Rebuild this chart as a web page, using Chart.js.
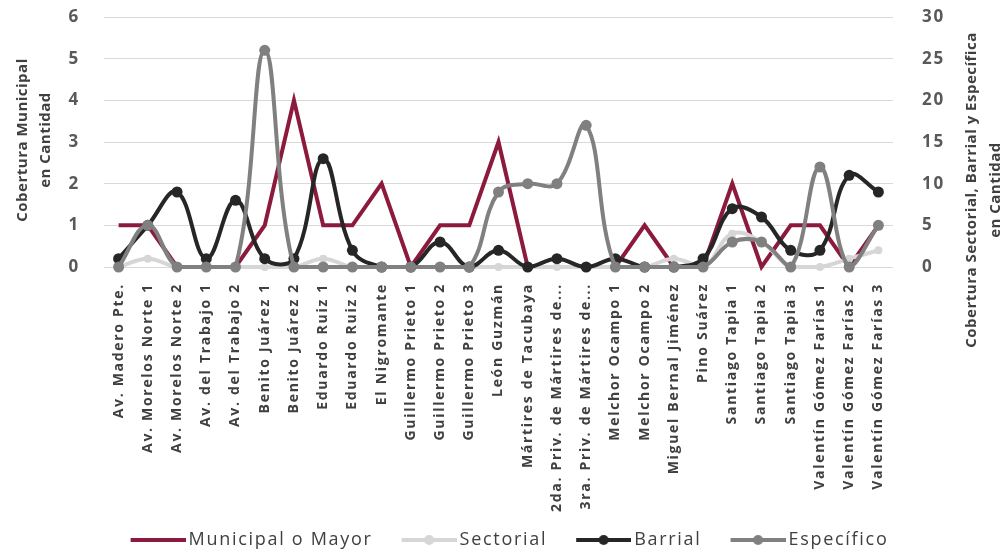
<!DOCTYPE html>
<html>
<head>
<meta charset="utf-8">
<script src="https://cdn.jsdelivr.net/npm/chart.js@4/dist/chart.umd.min.js"></script>
<style>
  html, body { margin: 0; padding: 0; background: #ffffff; }
  #wrap { width: 1008px; height: 554px; }
</style>
</head>
<body>
<div id="wrap"><canvas id="chart" width="1008" height="554"></canvas></div>
<script>
// Street segments (categories) and coverage counts per level
const categories = [
  'Av. Madero Pte.', 'Av. Morelos Norte 1', 'Av. Morelos Norte 2', 'Av. del Trabajo 1',
  'Av. del Trabajo 2', 'Benito Juárez 1', 'Benito Juárez 2', 'Eduardo Ruiz 1',
  'Eduardo Ruiz 2', 'El Nigromante', 'Guillermo Prieto 1', 'Guillermo Prieto 2',
  'Guillermo Prieto 3', 'León Guzmán', 'Mártires de Tacubaya', '2da. Priv. de Mártires de...',
  '3ra. Priv. de Mártires de...', 'Melchor Ocampo 1', 'Melchor Ocampo 2', 'Miguel Bernal Jiménez',
  'Pino Suárez', 'Santiago Tapia 1', 'Santiago Tapia 2', 'Santiago Tapia 3',
  'Valentín Gómez Farías 1', 'Valentín Gómez Farías 2', 'Valentín Gómez Farías 3'
];

// Left axis series
const municipal = [1, 1, 0, 0, 0, 1, 4, 1, 1, 2, 0, 1, 1, 3, 0, 0, 0, 0, 1, 0, 0, 2, 0, 1, 1, 0, 1];

// Right axis series
const sectorial = [0, 1, 0, 0, 0, 0, 0, 1, 0, 0, 0, 0, 0, 0, 0, 0, 0, 0, 0, 1, 0, 4, 3, 0, 0, 1, 2];
const barrial = [1, 5, 9, 1, 8, 1, 1, 13, 2, 0, 0, 3, 0, 2, 0, 1, 0, 1, 0, 0, 1, 7, 6, 2, 2, 11, 9];
const especifico = [0, 5, 0, 0, 0, 26, 0, 0, 0, 0, 0, 0, 0, 9, 10, 10, 17, 0, 0, 0, 0, 3, 3, 0, 12, 0, 5];

const leftTicks = [0, 1, 2, 3, 4, 5, 6];
const rightTicks = [0, 5, 10, 15, 20, 25, 30];

const leftTitle = ['Cobertura Municipal', 'en Cantidad'];
const rightTitle = ['Cobertura Sectorial, Barrial y Específica', 'en Cantidad'];

const COLORS = {
  municipal: '#8c1a3c',
  sectorial: '#d6d6d6',
  barrial: '#262626',
  especifico: '#808080',
  grid: '#d9d9d9',
  text: '#404040',
  tick: '#595959'
};

const FONT = '"Open Sans", "DejaVu Sans", sans-serif';

// Legend symbol: a short line (with a marker for series that show points),
// padded on the left so consecutive legend entries breathe a little.
const SWATCH_W = 72;
function legendSwatch(color, width, withMarker) {
  const c = document.createElement('canvas');
  c.width = SWATCH_W; c.height = 14;
  const g = c.getContext('2d');
  const x0 = 17;
  g.strokeStyle = color;
  g.lineWidth = width;
  g.beginPath(); g.moveTo(x0, 7); g.lineTo(SWATCH_W, 7); g.stroke();
  if (withMarker) {
    g.fillStyle = color;
    g.beginPath(); g.arc((x0 + SWATCH_W) / 2, 7, 5, 0, Math.PI * 2); g.fill();
  }
  return c;
}

// Slightly open text tracking for all chart text
const TRACKING = '1.7px';
const textTracking = {
  id: 'textTracking',
  beforeUpdate(chart) { chart.ctx.letterSpacing = TRACKING; },
  beforeDraw(chart) { chart.ctx.letterSpacing = TRACKING; }
};

// Rotated two-line axis titles
const axisTitles = {
  id: 'axisTitles',
  afterDraw(chart) {
    const ctx = chart.ctx;
    ctx.save();
    ctx.letterSpacing = '0.5px';
    ctx.font = 'bold 15px ' + FONT;
    ctx.fillStyle = COLORS.text;
    ctx.textAlign = 'center';
    ctx.textBaseline = 'middle';
    const drawLines = (lines, xs, cy) => {
      lines.forEach((t, i) => {
        ctx.save();
        ctx.translate(xs[i], cy);
        ctx.rotate(-Math.PI / 2);
        ctx.fillText(t, 0, 0);
        ctx.restore();
      });
    };
    const area = chart.chartArea;
    drawLines(leftTitle, [23, 46], (area.top + area.bottom) / 2 - 2);
    drawLines(rightTitle, [972, 996], 190);
    ctx.restore();
  }
};

const datasets = [
  {
    label: 'Municipal o Mayor', data: municipal, yAxisID: 'y',
    borderColor: COLORS.municipal, backgroundColor: COLORS.municipal,
    borderWidth: 4, pointRadius: 0, pointHoverRadius: 0, tension: 0, order: 4,
    swatch: legendSwatch(COLORS.municipal, 4, false)
  },
  {
    label: 'Sectorial', data: sectorial, yAxisID: 'y2',
    borderColor: COLORS.sectorial, backgroundColor: COLORS.sectorial,
    borderWidth: 4, pointRadius: 4, tension: 0.4, order: 3,
    swatch: legendSwatch(COLORS.sectorial, 4, true)
  },
  {
    label: 'Barrial', data: barrial, yAxisID: 'y2',
    borderColor: COLORS.barrial, backgroundColor: COLORS.barrial,
    borderWidth: 4, pointRadius: 5.5, tension: 0.4, order: 2,
    swatch: legendSwatch(COLORS.barrial, 4, true)
  },
  {
    label: 'Específico', data: especifico, yAxisID: 'y2',
    borderColor: COLORS.especifico, backgroundColor: COLORS.especifico,
    borderWidth: 4, pointRadius: 5.5, tension: 0.4, order: 1,
    swatch: legendSwatch(COLORS.especifico, 4, true)
  }
];
datasets.forEach(d => { d.clip = 8; d.pointBorderWidth = 0; });

new Chart(document.getElementById('chart'), {
  type: 'line',
  data: { labels: categories, datasets },
  plugins: [textTracking, axisTitles],
  options: {
    responsive: false,
    animation: false,
    devicePixelRatio: 1,
    layout: { padding: { top: 17, left: 0, right: 0, bottom: -5 } },
    plugins: {
      tooltip: { enabled: false },
      legend: {
        position: 'bottom',
        labels: {
          usePointStyle: true,
          pointStyleWidth: SWATCH_W - 12,
          padding: 18,
          color: COLORS.text,
          font: { family: FONT, size: 18 },
          generateLabels(chart) {
            return chart.data.datasets.map((d, i) => ({
              text: d.label,
              pointStyle: d.swatch,
              fillStyle: d.borderColor,
              strokeStyle: d.borderColor,
              lineWidth: 0,
              hidden: false,
              datasetIndex: i,
              fontColor: COLORS.text
            }));
          }
        }
      }
    },
    scales: {
      x: {
        offset: true,
        grid: { display: false, drawTicks: false },
        border: { display: false },
        ticks: {
          autoSkip: false, minRotation: 90, maxRotation: 90, padding: 16,
          color: COLORS.text,
          font: { family: FONT, size: 14, weight: 'bold' }
        },
        afterFit(s) { s.height = 246; }
      },
      y: {
        position: 'left', min: 0, max: 6,
        afterBuildTicks(s) { s.ticks = leftTicks.map(v => ({ value: v })); },
        grid: { color: COLORS.grid, lineWidth: 1, drawTicks: true, tickLength: 24, tickColor: 'rgba(0,0,0,0)' },
        border: { display: false },
        ticks: {
          padding: 0, color: COLORS.tick,
          font: { family: FONT, size: 17, weight: 'bold' }
        },
        afterFit(s) { s.width = 104; }
      },
      y2: {
        position: 'right', min: 0, max: 30,
        afterBuildTicks(s) { s.ticks = rightTicks.map(v => ({ value: v })); },
        grid: { display: true, color: 'rgba(0,0,0,0)', drawOnChartArea: false, drawTicks: true, tickLength: 29, tickColor: 'rgba(0,0,0,0)' },
        border: { display: false },
        ticks: {
          padding: 0, color: COLORS.tick,
          font: { family: FONT, size: 17, weight: 'bold' }
        },
        afterFit(s) { s.width = 115; }
      }
    }
  }
});
</script>
</body>
</html>
